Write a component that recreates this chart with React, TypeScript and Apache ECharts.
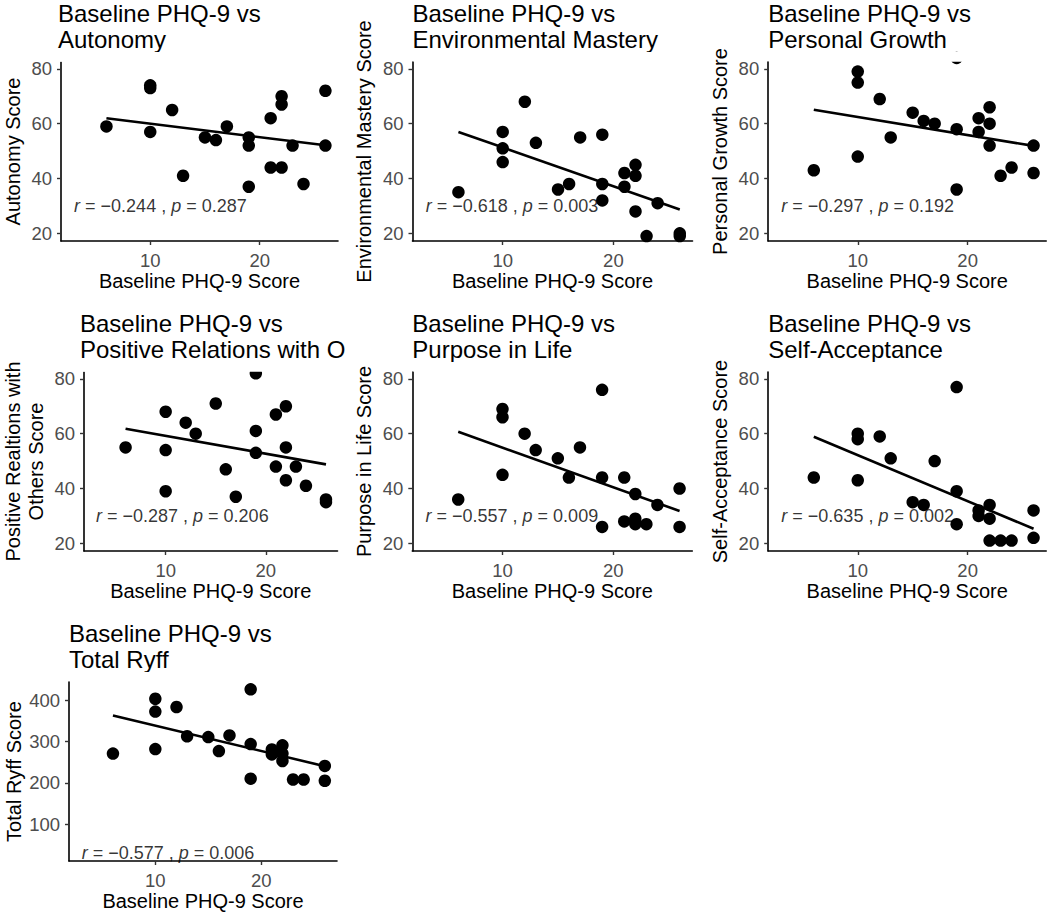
import React, { useEffect, useRef } from "react";
import * as echarts from "echarts";

// ---- data ----
const PHQ = [6, 10, 10, 10, 12, 13, 15, 16, 17, 19, 19, 19, 21, 21, 22, 22, 22, 23, 24, 26, 26];
const autonomy = [59, 74, 73, 57, 65, 41, 55, 54, 59, 55, 52, 37, 62, 44, 70, 67, 44, 52, 38, 72, 52];
const envMastery = [35, 57, 51, 46, 68, 53, 36, 38, 55, 56, 38, 32, 42, 37, 45, 41, 28, 19, 31, 20, 19];
const personalGrowth = [43, 79, 75, 48, 69, 55, 64, 61, 60, 84, 58, 36, 62, 57, 66, 60, 52, 41, 44, 52, 42];
const posRelations = [55, 68, 54, 39, 64, 60, 71, 47, 37, 82, 61, 53, 67, 48, 70, 55, 43, 48, 41, 36, 35];
const purpose = [36, 69, 66, 45, 60, 54, 51, 44, 55, 76, 44, 26, 44, 28, 38, 29, 27, 27, 34, 40, 26];
const selfAccept = [44, 60, 58, 43, 59, 51, 35, 34, 50, 77, 39, 27, 32, 30, 34, 29, 21, 21, 21, 32, 22];
const totalRyff = [271, 404, 373, 282, 384, 313, 311, 277, 315, 427, 294, 210, 281, 269, 291, 271, 253, 208, 208, 241, 205];

const PANEL_NAMES = [
  "Autonomy",
  "Environmental Mastery",
  "Personal Growth",
  "Positive Relations with Others",
  "Purpose in Life",
  "Self-Acceptance",
  "Total Ryff",
];
const Y_NAMES = [
  "Autonomy Score",
  "Environmental Mastery Score",
  "Personal Growth Score",
  "Positive Realtions with\nOthers Score",
  "Purpose in Life Score",
  "Self-Acceptance Score",
  "Total Ryff Score",
];
const X_NAME = "Baseline PHQ-9 Score";
const X_TICKS = [10, 20];
const Y_TICKS_SUB = [20, 40, 60, 80];
const Y_TICKS_TOTAL = [100, 200, 300, 400];
const FIT_X = [6, 26];
const FIT_START = [62.0, 57.0, 65.1, 61.8, 60.7, 58.9, 363.7];
const FIT_END = [52.1, 28.7, 51.9, 48.8, 31.8, 25.3, 240.3];
const R_TEXT = ["−0.244", "−0.618", "−0.297", "−0.287", "−0.557", "−0.635", "−0.577"];
const P_TEXT = ["0.287", "0.003", "0.192", "0.206", "0.009", "0.002", "0.006"];
const LABEL_AT = [3, 30];

const SCORES = [autonomy, envMastery, personalGrowth, posRelations, purpose, selfAccept, totalRyff];

// ---- layout ----
const GRIDS = [
  { left: 58, top: 62, width: 280, height: 179, titleTop: 0, titleW: 290 },
  { left: 412.5, top: 62, width: 280, height: 179, titleTop: 0, titleW: 290 },
  { left: 768.2, top: 62, width: 278, height: 179, titleTop: 0, titleW: 280 },
  { left: 80, top: 372, width: 257.5, height: 179, titleTop: 310, titleW: 268 },
  { left: 412.3, top: 372, width: 280, height: 179, titleTop: 310, titleW: 290 },
  { left: 768.2, top: 372, width: 278, height: 179, titleTop: 310, titleW: 280 },
  { left: 69, top: 682, width: 268, height: 179, titleTop: 620, titleW: 280 },
];

const FONT = "'Liberation Sans', Arial, Helvetica, sans-serif";

function buildOption() {
  const grid: any[] = [];
  const xAxis: any[] = [];
  const yAxis: any[] = [];
  const series: any[] = [];
  const title: any[] = [];
  const graphic: any[] = [];

  GRIDS.forEach((g, i) => {
    const isTotal = i === 6;
    grid.push({ left: g.left, top: g.top, width: g.width, height: g.height });
    xAxis.push({
      type: "value",
      gridIndex: i,
      min: 1.85,
      max: 27.15,
      name: X_NAME,
      nameLocation: "middle",
      nameGap: 30,
      nameTextStyle: { fontFamily: FONT, fontSize: 20, color: "#000" },
      axisLine: { show: true, onZero: false, lineStyle: { color: "#000", width: 1.6 } },
      axisTick: { show: true, customValues: X_TICKS, length: 4, lineStyle: { color: "#333", width: 1.4 } },
      axisLabel: { customValues: X_TICKS, fontFamily: FONT, fontSize: 18.5, color: "#4D4D4D", margin: 10 },
      splitLine: { show: false },
    });
    const yt = isTotal ? Y_TICKS_TOTAL : Y_TICKS_SUB;
    yAxis.push({
      type: "value",
      gridIndex: i,
      min: isTotal ? 10.25 : 17.2,
      max: isTotal ? 444.75 : 82.5,
      name: Y_NAMES[i],
      nameLocation: "middle",
      nameGap: 37,
      nameTextStyle: { fontFamily: FONT, fontSize: 20, color: "#000", lineHeight: 23 },
      axisLine: { show: true, onZero: false, lineStyle: { color: "#000", width: 1.6 } },
      axisTick: { show: true, customValues: yt, length: 4, lineStyle: { color: "#333", width: 1.4 } },
      axisLabel: { customValues: yt, fontFamily: FONT, fontSize: 18.5, color: "#4D4D4D", margin: 9 },
      splitLine: { show: false },
    });
    series.push({
      type: "scatter",
      xAxisIndex: i,
      yAxisIndex: i,
      data: PHQ.map((x, k) => [x, SCORES[i][k]]),
      symbol: "circle",
      symbolSize: 12.5,
      itemStyle: { color: "#000", opacity: 1 },
      clip: false,
      z: 2,
    });
    series.push({
      type: "line",
      xAxisIndex: i,
      yAxisIndex: i,
      data: [
        [FIT_X[0], FIT_START[i]],
        [FIT_X[1], FIT_END[i]],
      ],
      symbol: "none",
      lineStyle: { color: "#000", width: 2.6 },
      silent: true,
      z: 3,
    });
    series.push({
      type: "scatter",
      xAxisIndex: i,
      yAxisIndex: i,
      data: [LABEL_AT],
      symbolSize: 1,
      itemStyle: { color: "rgba(0,0,0,0)" },
      silent: true,
      z: 4,
      label: {
        show: true,
        position: "right",
        distance: 0,
        formatter: `{i|r} = ${R_TEXT[i]} , {i|p} = ${P_TEXT[i]}`,
        fontFamily: FONT,
        fontSize: 18,
        color: "#000",
        rich: {
          i: { fontStyle: "italic", fontFamily: FONT, fontSize: 18, color: "#000" },
        },
      },
    });
    title.push({
      text: "Baseline PHQ-9 vs\n" + PANEL_NAMES[i],
      left: g.left,
      top: g.titleTop,
      padding: 0,
      textStyle: {
        fontFamily: FONT,
        fontSize: 24,
        fontWeight: "normal",
        color: "#000",
        lineHeight: 26,
        width: g.titleW,
        overflow: "truncate",
        ellipsis: "",
      },
    });
    // emulate panel clipping at the top edge
    graphic.push({
      type: "rect",
      silent: true,
      z: 100,
      shape: { x: g.left + 1.2, y: g.top - 10, width: g.width + 6, height: 9.7 },
      style: { fill: "#fff" },
    });
  });

  return {
    animation: false,
    backgroundColor: "#fff",
    title,
    grid,
    xAxis,
    yAxis,
    series,
    graphic,
  };
}

export default function App() {
  const ref = useRef<HTMLDivElement>(null);
  useEffect(() => {
    document.body.style.margin = "0";
    if (!ref.current) return;
    const chart = echarts.init(ref.current, undefined, { renderer: "svg" });
    chart.setOption(buildOption() as any);
    return () => chart.dispose();
  }, []);
  return <div ref={ref} style={{ width: 1050, height: 912 }} />;
}
